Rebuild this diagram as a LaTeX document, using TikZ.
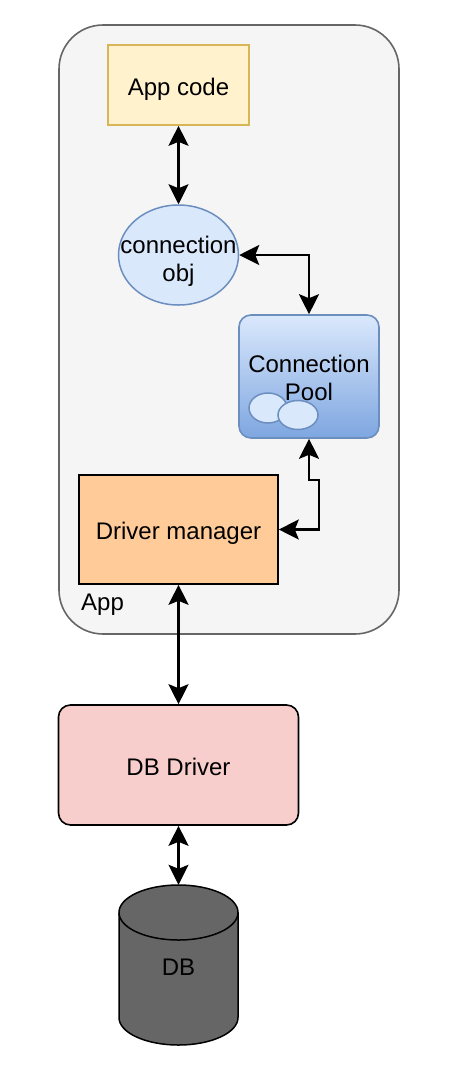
\documentclass[tikz,border=0pt]{standalone}
\usepackage{fontspec}
\setmainfont{Liberation Sans}
\usepackage{tikz}
\usetikzlibrary{
  arrows.meta,
  positioning,
  shapes.geometric
}
\definecolor{appgray}{HTML}{F5F5F5}
\definecolor{appedge}{HTML}{666666}
\definecolor{codeyellow}{HTML}{FFF2CC}
\definecolor{codeedge}{HTML}{D6B656}
\definecolor{connblue}{HTML}{DAE8FC}
\definecolor{connedge}{HTML}{6C8EBF}
\definecolor{pooldark}{HTML}{7EA6E0}
\definecolor{mgrorange}{HTML}{FFCC99}
\definecolor{driverpink}{HTML}{F8CECC}
\definecolor{dbgray}{HTML}{666666}
\tikzset{
  flowbox/.style={
    draw,
    line width=1.6pt,
    align=center,
    inner sep=0pt,
    text height=21pt,
    text depth=1pt,
    font=\fontsize{24}{28}\selectfont
  },
  flowtext/.style={align=center,inner sep=0pt,font=\fontsize{24}{28}\selectfont},
  appbox/.style={flowbox,draw=appedge,fill=appgray,rounded corners=44pt,
    minimum width=340pt,minimum height=609pt},
  codebox/.style={flowbox,draw=codeedge,fill=codeyellow,minimum width=141pt,minimum height=80pt},
  connnode/.style={ellipse,draw=connedge,fill=connblue,line width=1.5pt,
    minimum width=120pt,minimum height=100pt,inner sep=0pt},
  poolbox/.style={flowbox,draw=connedge,rounded corners=12pt,top color=connblue,
    bottom color=pooldark,minimum width=140pt,minimum height=123pt},
  poolconn/.style={draw=connedge,fill=connblue,line width=1.5pt},
  mgrbox/.style={flowbox,fill=mgrorange,minimum width=199pt,minimum height=109pt},
  driverbox/.style={flowbox,fill=driverpink,rounded corners=12pt,
    minimum width=240pt,minimum height=120pt},
  dbbody/.style={draw=black,fill=dbgray,line width=1.5pt},
  dbtext/.style={flowtext,minimum width=119pt,minimum height=160pt},
  flowarrow/.style={{Stealth[length=20pt,width=20pt,inset=4pt]}-{Stealth[length=20pt,width=20pt,inset=4pt]},
    line width=2.2pt},
}

\begin{document}
\begin{tikzpicture}[x=1pt,y=-1pt]
  \useasboundingbox (0,0) rectangle (454,1072);

  % App container
  \node[appbox] (app) at (229,329.5) {};
  \node[flowtext,anchor=west] (applabel) at (81,605) {App};

  \node[codebox] (code) at (178.5,85) {App code};
  \node[connnode] (conn) at (178.5,255) {};
  \node[flowtext] (conntext) at (178.5,261) {connection\\obj};

  % Connection pool with its two small connections
  \node[poolbox] (pool) at (309,376.5) {};
  \draw[poolconn] (268,408) ellipse[x radius=19,y radius=15];
  \draw[poolconn] (298,415) ellipse[x radius=20,y radius=14.5];
  \node[flowtext] (pooltext) at (309,378) {Connection\\Pool};

  \node[mgrbox] (mgr) at (178.5,529.5) {Driver manager};

  % Outside the app
  \node[driverbox] (driver) at (178.5,765) {DB Driver};

  \draw[dbbody] (119,912.5) -- (119,1017.5)
    arc[start angle=180,end angle=0,x radius=59.5,y radius=27.5] -- (238,912.5)
    arc[start angle=0,end angle=-180,x radius=59.5,y radius=27.5] -- cycle;
  \draw[line width=1.5pt] (119,912.5) arc[start angle=180,end angle=0,x radius=59.5,y radius=27.5];
  \node[dbtext] (db) at (178.5,967) {DB};

  % Connectors
  \coordinate (kink) at (319,480);
  \draw[flowarrow] (code.south) -- (conn.north);
  \draw[flowarrow] (conn.east) -| (pool.north);
  \draw[flowarrow] (pool.south) |- (kink) |- (mgr.east);
  \draw[flowarrow] (mgr.south) -- (driver.north);
  \draw[flowarrow] (driver.south) -- ([yshift=2pt]db.north);
\end{tikzpicture}
\end{document}
